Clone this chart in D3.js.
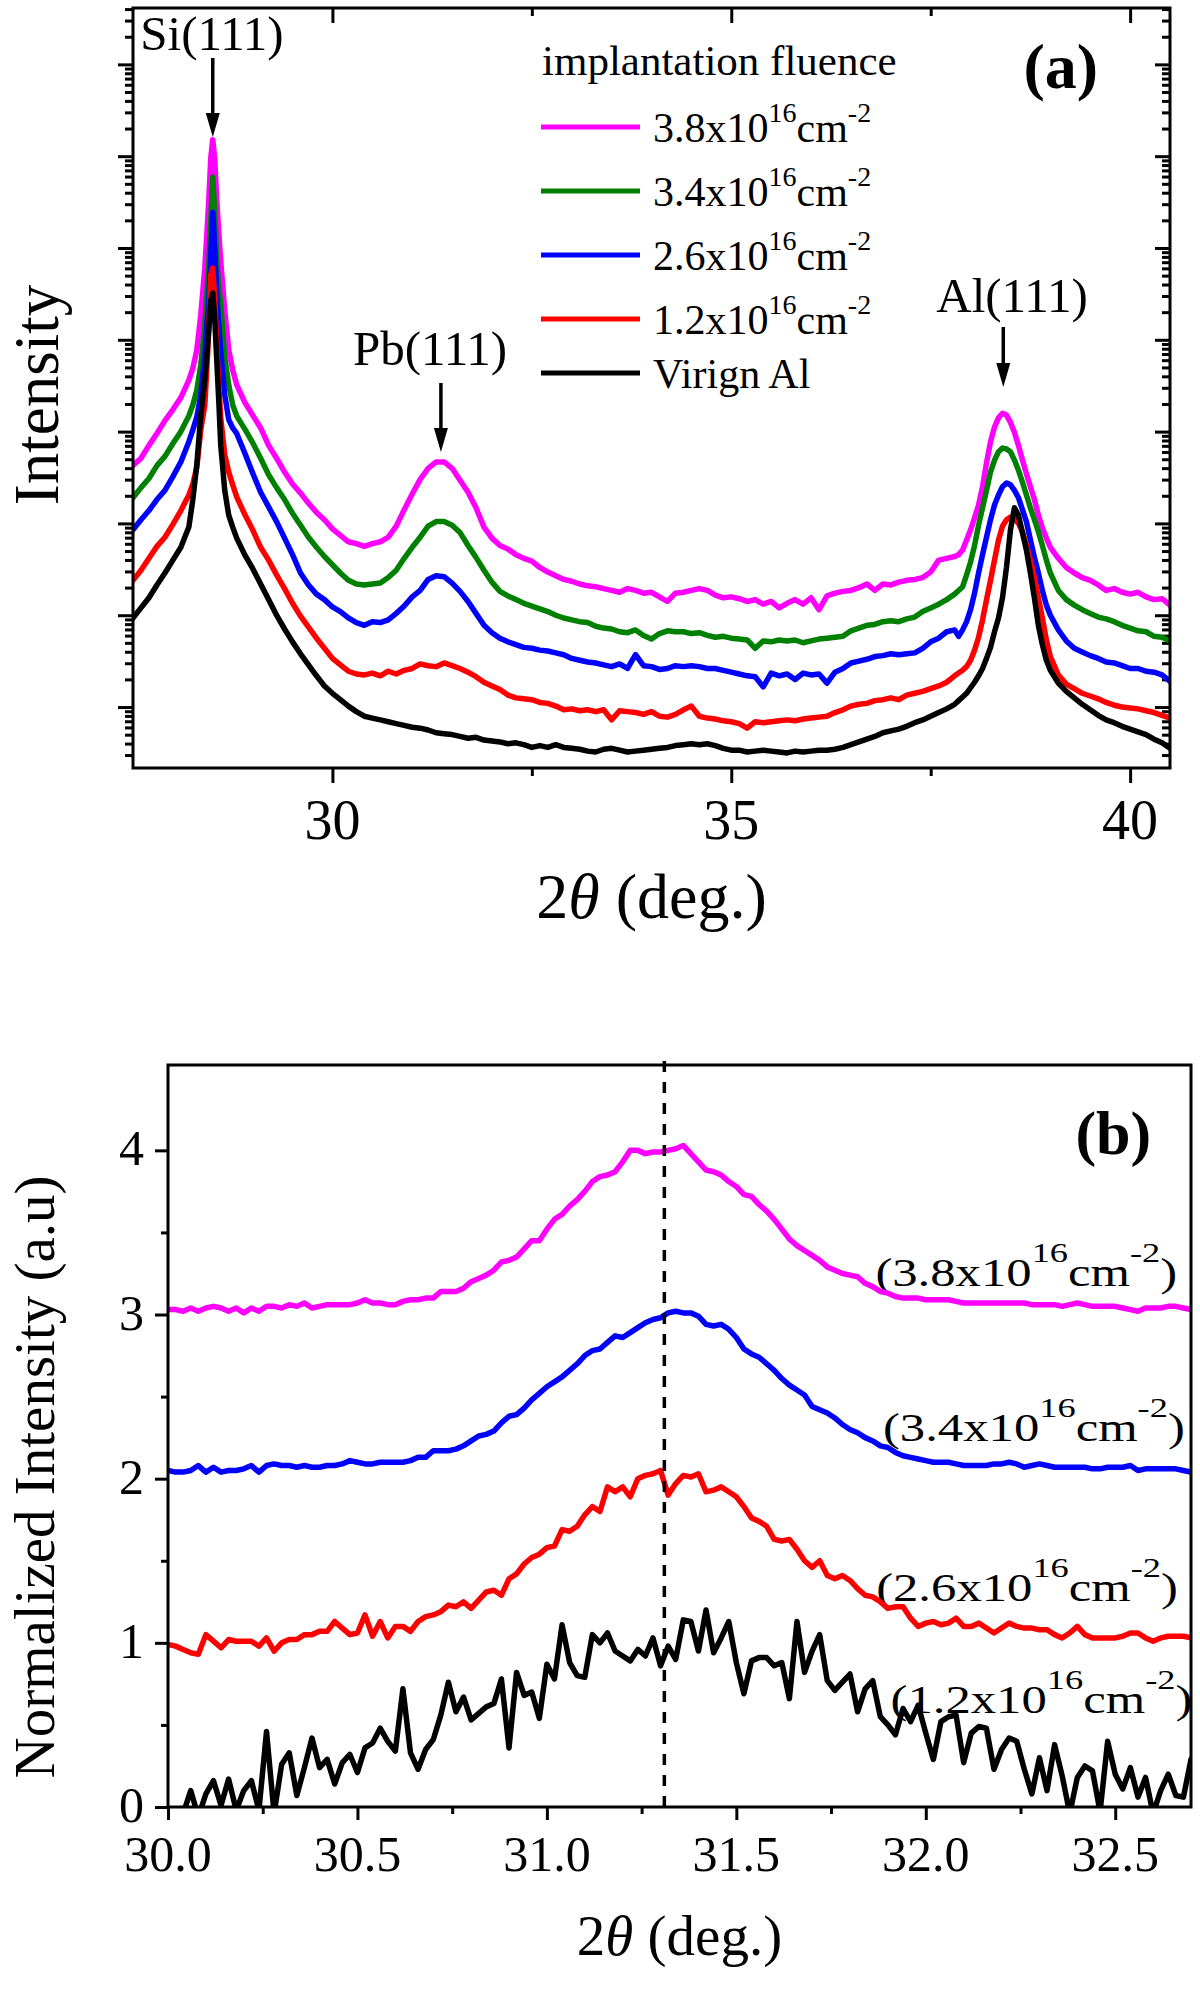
<!DOCTYPE html>
<html><head><meta charset="utf-8">
<script src="https://cdn.jsdelivr.net/npm/d3@7"></script>
<style>
body{margin:0;background:#fff}
text{font-family:"Liberation Serif","Times New Roman",serif;fill:#000}
</style></head>
<body>
<svg id="c" width="1200" height="1998"></svg>
<script>
// ================= DATA : panel (a) — XRD scans, log10(intensity) =================
const xDomainA = [27.5, 40.5];
const lgDomainA = [0.336, 8.614];
const twoThetaA = [27.5,27.6,27.7,27.8,27.9,28.0,28.1,28.2,28.25,28.3,28.35,28.4,28.425,28.45,28.475,28.5,28.525,28.55,28.575,28.6,28.65,28.7,28.75,28.8,
28.9,29.0,29.1,29.2,29.3,29.4,29.5,29.6,29.7,29.8,29.9,
30.0,30.1,30.2,30.3,30.4,30.5,30.6,30.7,30.8,30.9,
31.0,31.1,31.2,31.3,31.4,31.5,31.6,31.7,31.8,31.9,
32.0,32.1,32.2,32.3,32.4,32.5,32.6,32.7,32.8,32.9,
33.0,33.1,33.2,33.3,33.4,33.5,33.6,33.7,33.8,33.9,
34.0,34.1,34.2,34.3,34.4,34.5,34.6,34.7,34.8,34.9,
35.0,35.1,35.2,35.3,35.4,35.5,35.6,35.7,35.8,35.9,
36.0,36.1,36.2,36.3,36.4,36.5,36.6,36.7,36.8,36.9,
37.0,37.1,37.2,37.3,37.4,37.5,37.6,37.7,37.8,
37.85,37.9,37.95,38.0,38.05,38.1,38.15,38.2,38.25,38.3,38.35,38.4,38.45,38.5,38.55,38.6,38.65,38.7,38.75,38.8,38.85,38.9,38.95,39.0,
39.1,39.2,39.3,39.4,39.5,39.6,39.7,39.8,39.9,40.0,40.1,40.2,40.3,40.4,40.5];

const lgFluence38 = [3.63,3.71,3.85,3.98,4.12,4.24,4.37,4.56,4.69,4.89,5.27,5.78,6.14,6.52,6.98,7.18,6.96,6.52,6.17,5.85,5.32,4.89,4.67,4.51,
4.32,4.18,4.04,3.85,3.71,3.56,3.43,3.33,3.22,3.12,3.04,
2.94,2.87,2.80,2.78,2.75,2.78,2.80,2.85,2.97,3.15,
3.32,3.48,3.60,3.67,3.67,3.60,3.47,3.34,3.17,2.96,
2.84,2.76,2.72,2.66,2.62,2.59,2.52,2.47,2.43,2.39,
2.37,2.34,2.32,2.31,2.29,2.27,2.25,2.29,2.27,2.24,
2.25,2.20,2.15,2.24,2.25,2.27,2.29,2.27,2.22,2.19,
2.20,2.18,2.15,2.17,2.12,2.15,2.08,2.13,2.17,2.12,
2.19,2.06,2.21,2.24,2.26,2.27,2.30,2.34,2.27,2.34,
2.33,2.36,2.38,2.39,2.41,2.47,2.60,2.62,2.64,
2.66,2.71,2.82,2.93,3.06,3.20,3.40,3.66,3.89,4.05,4.15,4.20,4.18,4.10,3.99,3.85,3.69,3.54,3.40,3.26,3.09,2.95,2.84,2.74,
2.62,2.52,2.46,2.41,2.38,2.33,2.27,2.29,2.25,2.23,2.25,2.20,2.17,2.18,2.11];

const lgFluence34 = [3.28,3.39,3.49,3.63,3.73,3.87,4.00,4.17,4.29,4.45,4.73,5.16,5.49,5.81,6.31,6.77,6.39,5.85,5.56,5.38,4.81,4.51,4.29,4.17,
4.03,3.88,3.71,3.53,3.39,3.26,3.11,2.98,2.85,2.74,2.64,
2.55,2.46,2.38,2.34,2.33,2.34,2.35,2.41,2.49,2.62,
2.74,2.85,2.97,3.02,3.02,2.98,2.90,2.76,2.63,2.49,
2.36,2.26,2.21,2.17,2.13,2.10,2.07,2.04,2.00,1.97,
1.95,1.93,1.92,1.88,1.86,1.85,1.82,1.81,1.84,1.78,
1.74,1.80,1.83,1.82,1.82,1.80,1.81,1.78,1.76,1.77,
1.75,1.74,1.73,1.64,1.72,1.71,1.73,1.72,1.73,1.70,
1.72,1.74,1.75,1.76,1.77,1.83,1.86,1.89,1.90,1.93,
1.94,1.93,1.96,1.98,2.04,2.08,2.12,2.17,2.23,
2.27,2.31,2.44,2.58,2.76,2.98,3.17,3.36,3.56,3.69,3.78,3.82,3.81,3.78,3.69,3.58,3.45,3.31,3.17,3.04,2.91,2.76,2.60,2.46,
2.27,2.17,2.11,2.06,2.02,1.98,1.96,1.93,1.89,1.86,1.83,1.82,1.77,1.76,1.72];

const lgFluence26 = [2.93,3.04,3.14,3.26,3.36,3.51,3.67,3.89,4.02,4.16,4.40,4.83,5.16,5.43,5.92,6.39,5.98,5.49,5.16,4.87,4.40,4.13,4.04,3.98,
3.77,3.55,3.34,3.18,3.02,2.84,2.66,2.46,2.33,2.23,2.17,
2.09,2.04,1.97,1.92,1.89,1.93,1.92,1.95,2.02,2.10,
2.20,2.27,2.39,2.43,2.42,2.35,2.26,2.15,2.02,1.89,
1.81,1.75,1.71,1.68,1.65,1.64,1.62,1.61,1.59,1.57,
1.53,1.51,1.49,1.48,1.46,1.44,1.47,1.42,1.57,1.45,
1.44,1.41,1.42,1.45,1.44,1.45,1.44,1.42,1.42,1.40,
1.38,1.36,1.34,1.33,1.22,1.37,1.34,1.36,1.30,1.37,
1.35,1.36,1.26,1.38,1.42,1.48,1.50,1.52,1.55,1.56,
1.58,1.57,1.58,1.59,1.64,1.71,1.75,1.82,1.84,
1.77,1.84,1.93,2.06,2.24,2.46,2.66,2.85,3.04,3.20,3.31,3.40,3.44,3.42,3.36,3.28,3.15,3.02,2.82,2.63,2.46,2.27,2.11,2.00,
1.84,1.72,1.64,1.60,1.56,1.53,1.49,1.48,1.45,1.42,1.42,1.39,1.38,1.35,1.28];

const lgFluence12 = [2.38,2.49,2.62,2.75,2.85,2.99,3.14,3.31,3.43,3.61,4.02,4.29,4.67,5.11,5.71,5.78,5.43,4.94,4.51,4.15,3.75,3.56,3.42,3.29,
3.10,2.93,2.74,2.60,2.44,2.29,2.13,1.99,1.87,1.75,1.64,
1.53,1.46,1.39,1.36,1.35,1.37,1.34,1.39,1.36,1.40,
1.42,1.47,1.45,1.44,1.48,1.45,1.42,1.38,1.33,1.27,
1.23,1.19,1.13,1.10,1.09,1.08,1.05,1.04,1.01,0.97,
0.98,0.96,0.97,0.95,0.97,0.86,0.96,0.95,0.94,0.92,
0.95,0.90,0.89,0.92,0.97,1.01,0.90,0.88,0.87,0.85,
0.84,0.82,0.77,0.84,0.83,0.84,0.85,0.86,0.85,0.87,
0.88,0.89,0.90,0.94,0.97,1.01,1.03,1.04,1.07,1.08,
1.10,1.08,1.13,1.15,1.17,1.20,1.23,1.27,1.34,
1.37,1.40,1.44,1.51,1.62,1.76,1.95,2.17,2.38,2.60,2.82,2.97,3.04,3.07,3.05,3.00,2.91,2.76,2.60,2.41,2.19,1.97,1.73,1.55,
1.35,1.25,1.20,1.15,1.12,1.09,1.05,1.02,1.00,0.99,0.98,0.96,0.94,0.91,0.88];

const lgVirginAl = [1.97,2.08,2.19,2.33,2.46,2.60,2.74,2.96,3.26,3.64,4.18,4.56,4.83,5.11,5.43,5.51,5.22,4.78,4.34,3.85,3.36,3.09,2.96,2.84,
2.66,2.51,2.34,2.17,2.00,1.85,1.71,1.58,1.46,1.34,1.23,
1.15,1.08,1.01,0.95,0.90,0.88,0.86,0.84,0.82,0.80,
0.78,0.77,0.75,0.72,0.71,0.70,0.68,0.66,0.67,0.64,
0.63,0.62,0.60,0.61,0.59,0.56,0.58,0.56,0.59,0.56,
0.55,0.54,0.52,0.51,0.54,0.55,0.53,0.51,0.52,0.53,
0.54,0.55,0.56,0.58,0.59,0.60,0.59,0.60,0.58,0.55,
0.53,0.53,0.51,0.52,0.53,0.52,0.51,0.50,0.52,0.51,
0.52,0.53,0.53,0.54,0.56,0.59,0.62,0.65,0.68,0.72,
0.74,0.76,0.79,0.83,0.86,0.90,0.94,0.98,1.03,
1.07,1.11,1.15,1.21,1.27,1.34,1.42,1.53,1.65,1.82,1.97,2.19,2.52,2.93,3.17,3.09,2.90,2.71,2.46,2.19,1.89,1.68,1.51,1.40,
1.26,1.17,1.10,1.03,0.97,0.91,0.86,0.83,0.79,0.76,0.73,0.70,0.65,0.61,0.55];

const seriesNamesA = ["3.8", "3.4", "2.6", "1.2", "Virign Al"];
const seriesColorsA = ["#ff00ff", "#008000", "#0000ff", "#ff0000", "#000000"];
const xTicksA = [30, 35, 40];
const xMinorTicksA = [32.5, 37.5];
const peakLabels = ["Si(111)", "Pb(111)", "Al(111)"];
const peakPositions = [28.5, 31.36, 38.41];

// ================= DATA : panel (b) — normalized Pb(111) region =================
const xDomainB = [30, 32.7];
const yDomainB = [0, 4.52];
const twoThetaB = [30.00,30.02,30.04,30.06,30.08,30.10,30.12,30.14,30.16,30.18,
30.20,30.22,30.24,30.26,30.28,30.30,30.32,30.34,30.36,30.38,
30.40,30.42,30.44,30.46,30.48,30.50,30.52,30.54,30.56,30.58,
30.60,30.62,30.64,30.66,30.68,30.70,30.72,30.74,30.76,30.78,
30.80,30.82,30.84,30.86,30.88,30.90,30.92,30.94,30.96,30.98,
31.00,31.02,31.04,31.06,31.08,31.10,31.12,31.14,31.16,31.18,
31.20,31.22,31.24,31.26,31.28,31.30,31.32,31.34,31.36,31.38,
31.40,31.42,31.44,31.46,31.48,31.50,31.52,31.54,31.56,31.58,
31.60,31.62,31.64,31.66,31.68,31.70,31.72,31.74,31.76,31.78,
31.80,31.82,31.84,31.86,31.88,31.90,31.92,31.94,31.96,31.98,
32.00,32.02,32.04,32.06,32.08,32.10,32.12,32.14,32.16,32.18,
32.20,32.22,32.24,32.26,32.28,32.30,32.32,32.34,32.36,32.38,
32.40,32.42,32.44,32.46,32.48,32.50,32.52,32.54,32.56,32.58,
32.60,32.62,32.64,32.66,32.68,32.70];

const normB38 = [3.03,3.03,3.02,3.04,3.02,3.04,3.05,3.04,3.02,3.04,
3.01,3.04,3.02,3.05,3.05,3.04,3.06,3.05,3.07,3.04,
3.05,3.06,3.06,3.06,3.06,3.07,3.09,3.07,3.07,3.06,
3.06,3.08,3.09,3.09,3.10,3.10,3.14,3.14,3.14,3.16,
3.20,3.22,3.24,3.27,3.32,3.33,3.35,3.40,3.45,3.45,
3.52,3.58,3.61,3.66,3.70,3.75,3.81,3.84,3.85,3.87,
3.93,4.00,4.00,3.98,3.99,3.99,4.00,4.01,4.03,3.98,
3.93,3.88,3.87,3.85,3.81,3.78,3.73,3.72,3.67,3.63,
3.58,3.52,3.46,3.42,3.39,3.36,3.33,3.29,3.27,3.25,
3.24,3.23,3.19,3.17,3.14,3.13,3.11,3.10,3.10,3.10,
3.09,3.09,3.09,3.09,3.08,3.07,3.07,3.07,3.07,3.07,
3.07,3.07,3.07,3.07,3.06,3.06,3.06,3.06,3.05,3.06,
3.07,3.06,3.05,3.05,3.05,3.05,3.04,3.03,3.02,3.04,
3.04,3.04,3.05,3.05,3.04,3.03];

const normB34 = [2.05,2.04,2.04,2.05,2.08,2.04,2.07,2.04,2.05,2.05,
2.06,2.08,2.04,2.08,2.09,2.08,2.08,2.07,2.08,2.07,
2.07,2.08,2.08,2.09,2.11,2.10,2.09,2.09,2.10,2.10,
2.10,2.10,2.11,2.13,2.13,2.17,2.17,2.17,2.18,2.20,
2.23,2.26,2.27,2.29,2.34,2.38,2.39,2.43,2.48,2.52,
2.56,2.59,2.62,2.66,2.70,2.75,2.78,2.79,2.83,2.87,
2.86,2.89,2.92,2.95,2.97,2.98,3.01,3.02,3.01,3.01,
2.99,2.94,2.93,2.94,2.91,2.86,2.79,2.76,2.74,2.70,
2.66,2.61,2.57,2.54,2.51,2.44,2.42,2.40,2.37,2.33,
2.30,2.28,2.25,2.23,2.20,2.19,2.16,2.14,2.13,2.12,
2.11,2.10,2.10,2.10,2.09,2.08,2.08,2.08,2.08,2.09,
2.09,2.10,2.09,2.07,2.08,2.09,2.08,2.07,2.07,2.07,
2.07,2.07,2.06,2.06,2.07,2.07,2.07,2.08,2.05,2.06,
2.06,2.06,2.06,2.06,2.05,2.04];

const normB26 = [0.99,0.98,0.96,0.94,0.93,1.05,1.01,0.97,1.02,1.01,
1.01,1.01,0.98,1.03,0.95,1.00,1.02,1.02,1.05,1.05,
1.07,1.07,1.13,1.09,1.05,1.06,1.17,1.04,1.13,1.03,
1.10,1.10,1.07,1.13,1.16,1.17,1.19,1.23,1.22,1.25,
1.21,1.26,1.31,1.32,1.29,1.39,1.42,1.48,1.52,1.54,
1.58,1.59,1.69,1.68,1.71,1.78,1.83,1.80,1.95,1.92,
1.95,1.89,2.00,2.02,2.03,2.05,1.90,1.97,2.02,2.01,
2.03,1.92,1.93,1.95,1.92,1.89,1.83,1.76,1.74,1.71,
1.63,1.62,1.63,1.57,1.50,1.46,1.50,1.41,1.39,1.41,
1.38,1.33,1.29,1.28,1.25,1.21,1.22,1.22,1.15,1.10,
1.12,1.13,1.11,1.12,1.15,1.10,1.10,1.12,1.09,1.06,
1.09,1.12,1.10,1.09,1.09,1.08,1.08,1.05,1.03,1.06,
1.10,1.05,1.03,1.03,1.03,1.03,1.04,1.06,1.06,1.03,
1.01,1.03,1.04,1.04,1.04,1.03];

const normB12 = [-0.06,-0.09,-0.04,0.10,-0.06,0.08,0.16,0.01,0.17,-0.02,
0.10,0.16,-0.02,0.46,-0.04,0.26,0.33,0.07,0.24,0.42,
0.24,0.29,0.14,0.27,0.32,0.21,0.36,0.39,0.48,0.40,
0.34,0.72,0.33,0.23,0.35,0.41,0.56,0.76,0.58,0.67,
0.53,0.57,0.61,0.63,0.78,0.36,0.82,0.68,0.70,0.54,
0.87,0.78,1.11,0.88,0.80,0.79,1.05,1.00,1.06,0.95,
0.92,0.89,0.96,0.92,1.03,0.86,0.98,0.90,1.14,1.13,
0.95,1.20,0.94,1.03,1.13,0.88,0.69,0.89,0.91,0.91,
0.86,0.88,0.66,1.13,0.82,0.95,1.05,0.77,0.71,0.76,
0.81,0.58,0.72,0.77,0.55,0.50,0.44,0.60,0.52,0.62,
0.45,0.29,0.52,0.55,0.56,0.27,0.45,0.49,0.48,0.23,
0.35,0.42,0.40,0.23,0.08,0.30,0.10,0.38,0.19,-0.04,
0.18,0.25,0.22,-0.03,0.40,0.20,0.11,0.24,0.06,0.18,
-0.04,0.10,0.20,0.07,0.06,0.29];

const seriesNamesB = ["3.8", "3.4", "2.6", "1.2"];
const seriesColorsB = ["#ff00ff", "#0000ff", "#ff0000", "#000000"];
const xTicksB = [30.0, 30.5, 31.0, 31.5, 32.0, 32.5];
const xMinorTicksB = [30.25, 30.75, 31.25, 31.75, 32.25];
const yTicksB = [0, 1, 2, 3, 4];
const yMinorTicksB = [0.5, 1.5, 2.5, 3.5];
const peakLine = 31.31;

// ================= DRAWING =================
const svg = d3.select("#c");

function styleAxis(g) {
  g.select(".domain").remove();
  g.selectAll(".tick line").attr("stroke", "#000").attr("stroke-width", 3);
  g.selectAll(".tick text").remove();
}

// ---------- Panel (a) ----------
const A = {l: 133, r: 1170, t: 8, b: 768};
const xA = d3.scaleLinear().domain(xDomainA).range([A.l, A.r]);
const yA = d3.scaleLog().domain(lgDomainA.map(v => Math.pow(10, v))).range([A.b, A.t]);

const majorsA = [], minorsA = [];
for (let e = 0; e <= 9; e++) for (let m = 1; m <= 9; m++) {
  const v = m * Math.pow(10, e);
  if (v >= yA.domain()[0] && v <= yA.domain()[1]) (m === 1 ? majorsA : minorsA).push(v);
}
const gA = svg.append("g");
gA.append("g").attr("transform", `translate(${A.l},0)`).call(d3.axisLeft(yA).tickValues(majorsA).tickSize(15).tickFormat("")).call(styleAxis);
gA.append("g").attr("transform", `translate(${A.l},0)`).call(d3.axisLeft(yA).tickValues(minorsA).tickSize(8).tickFormat("")).call(styleAxis);
gA.append("g").attr("transform", `translate(${A.r},0)`).call(d3.axisRight(yA).tickValues(majorsA).tickSize(-15).tickFormat("")).call(styleAxis);
gA.append("g").attr("transform", `translate(${A.r},0)`).call(d3.axisRight(yA).tickValues(minorsA).tickSize(-8).tickFormat("")).call(styleAxis);
gA.append("g").attr("transform", `translate(0,${A.b})`).call(d3.axisBottom(xA).tickValues(xTicksA).tickSize(15).tickFormat("")).call(styleAxis);
gA.append("g").attr("transform", `translate(0,${A.b})`).call(d3.axisBottom(xA).tickValues(xMinorTicksA).tickSize(8).tickFormat("")).call(styleAxis);
gA.append("g").attr("transform", `translate(0,${A.t})`).call(d3.axisTop(xA).tickValues(xTicksA).tickSize(-15).tickFormat("")).call(styleAxis);
gA.append("g").attr("transform", `translate(0,${A.t})`).call(d3.axisTop(xA).tickValues(xMinorTicksA).tickSize(-8).tickFormat("")).call(styleAxis);

gA.selectAll("text.xt").data(xTicksA).join("text").attr("class", "xt")
  .attr("x", d => xA(d)).attr("y", 839).attr("text-anchor", "middle").attr("font-size", 56).text(d => d);

svg.append("clipPath").attr("id", "clipA").append("rect")
  .attr("x", A.l).attr("y", A.t).attr("width", A.r - A.l).attr("height", A.b - A.t);

const seriesA = [lgFluence38, lgFluence34, lgFluence26, lgFluence12, lgVirginAl];
const lineA = d3.line().x((d, i) => xA(twoThetaA[i])).y(d => yA(Math.pow(10, d)));
const curvesA = gA.append("g").attr("clip-path", "url(#clipA)");
seriesA.forEach((s, k) => {
  curvesA.append("path").datum(s).attr("d", lineA).attr("fill", "none")
    .attr("stroke", seriesColorsA[k]).attr("stroke-width", 5.5)
    .attr("stroke-linejoin", "round").attr("stroke-linecap", "round");
});

gA.append("rect").attr("x", A.l).attr("y", A.t).attr("width", A.r - A.l).attr("height", A.b - A.t)
  .attr("fill", "none").attr("stroke", "#000").attr("stroke-width", 3);

// peak labels + arrows
const peakLabelY = [50, 365, 312];
const arrowTop = [58, 383, 327];
const arrowBot = [137, 452, 387];
const peakLabelX = [212, 430, 1012];
peakLabels.forEach((t, k) => {
  gA.append("text").attr("x", peakLabelX[k]).attr("y", peakLabelY[k]).attr("text-anchor", "middle")
    .attr("font-size", 49).text(t);
  const x = xA(peakPositions[k]);
  gA.append("line").attr("x1", x).attr("x2", x).attr("y1", arrowTop[k]).attr("y2", arrowBot[k] - 20)
    .attr("stroke", "#000").attr("stroke-width", 3.5);
  gA.append("path").attr("d", `M${x - 7},${arrowBot[k] - 24}L${x + 7},${arrowBot[k] - 24}L${x},${arrowBot[k]}Z`).attr("fill", "#000");
});

// legend
gA.append("text").attr("x", 542).attr("y", 75).attr("font-size", 43).text("implantation fluence");
const legY = [127, 191, 255, 319, 373];
function fluenceText(parent, x, y, num, fs, sfs, raise, paren) {
  const t = parent.append("text").attr("x", x).attr("y", y).attr("font-size", fs);
  t.append("tspan").text((paren ? "(" : "") + num + "x10");
  t.append("tspan").attr("font-size", sfs).attr("dy", -raise).text("16");
  t.append("tspan").attr("dy", raise).text("cm");
  t.append("tspan").attr("font-size", sfs).attr("dy", -raise).text("-2");
  if (paren) t.append("tspan").attr("dy", raise).text(")");
  return t;
}
seriesNamesA.forEach((n, k) => {
  gA.append("line").attr("x1", 541).attr("x2", 640).attr("y1", legY[k]).attr("y2", legY[k])
    .attr("stroke", seriesColorsA[k]).attr("stroke-width", 5);
  if (k < 4) fluenceText(gA, 653, legY[k] + 15, n, 42, 28, 20, false);
  else gA.append("text").attr("x", 653).attr("y", legY[k] + 15).attr("font-size", 42).text(n);
});

gA.append("text").attr("x", 1098).attr("y", 88).attr("text-anchor", "end")
  .attr("font-size", 64).attr("font-weight", "bold").text("(a)");

// axis titles (a)
const tA = gA.append("text").attr("x", (A.l + A.r) / 2).attr("y", 918).attr("text-anchor", "middle").attr("font-size", 64);
tA.append("tspan").text("2");
tA.append("tspan").attr("font-style", "italic").text("θ");
tA.append("tspan").text(" (deg.)");
gA.append("text").attr("transform", "translate(58,395) rotate(-90)").attr("text-anchor", "middle")
  .attr("font-size", 63).text("Intensity");

// ---------- Panel (b) ----------
const B = {l: 168, r: 1191, t: 1065, b: 1807};
const xB = d3.scaleLinear().domain(xDomainB).range([B.l, B.r]);
const yB = d3.scaleLinear().domain(yDomainB).range([B.b, B.t]);
const gB = svg.append("g");

gB.append("g").attr("transform", `translate(${B.l},0)`).call(d3.axisLeft(yB).tickValues(yTicksB).tickSize(13).tickFormat("")).call(styleAxis);
gB.append("g").attr("transform", `translate(${B.l},0)`).call(d3.axisLeft(yB).tickValues(yMinorTicksB).tickSize(7).tickFormat("")).call(styleAxis);
gB.append("g").attr("transform", `translate(0,${B.b})`).call(d3.axisBottom(xB).tickValues(xTicksB).tickSize(13).tickFormat("")).call(styleAxis);
gB.append("g").attr("transform", `translate(0,${B.b})`).call(d3.axisBottom(xB).tickValues(xMinorTicksB).tickSize(7).tickFormat("")).call(styleAxis);

gB.selectAll("text.xt").data(xTicksB).join("text").attr("class", "xt")
  .attr("x", d => xB(d)).attr("y", 1871).attr("text-anchor", "middle").attr("font-size", 50).text(d => d3.format(".1f")(d));
gB.selectAll("text.yt").data(yTicksB).join("text").attr("class", "yt")
  .attr("x", 144).attr("y", d => yB(d) + 15).attr("text-anchor", "end").attr("font-size", 50).text(d => d);

// curve labels (drawn under curves)
const labPosB = [[31.867, 3.172], [31.887, 2.228], [31.869, 1.255], [31.907, 0.573]];
seriesNamesB.forEach((n, k) => {
  const g = gB.append("g").attr("transform", `translate(${xB(labPosB[k][0])},${yB(labPosB[k][1])}) scale(1.3,1)`);
  fluenceText(g, 0, 0, n, 39, 28, 24, true);
});

svg.append("clipPath").attr("id", "clipB").append("rect")
  .attr("x", B.l).attr("y", B.t).attr("width", B.r - B.l).attr("height", B.b - B.t);
const seriesB = [normB38, normB34, normB26, normB12];
const lineB = d3.line().x((d, i) => xB(twoThetaB[i])).y(d => yB(d));
const curvesB = gB.append("g").attr("clip-path", "url(#clipB)");
seriesB.forEach((s, k) => {
  curvesB.append("path").datum(s).attr("d", lineB).attr("fill", "none")
    .attr("stroke", seriesColorsB[k]).attr("stroke-width", 5.5)
    .attr("stroke-linejoin", "round").attr("stroke-linecap", "round");
});

gB.append("line").attr("x1", xB(peakLine)).attr("x2", xB(peakLine)).attr("y1", B.t - 4).attr("y2", B.b + 5)
  .attr("stroke", "#000").attr("stroke-width", 3.5).attr("stroke-dasharray", "11,10");

gB.append("rect").attr("x", B.l).attr("y", B.t).attr("width", B.r - B.l).attr("height", B.b - B.t)
  .attr("fill", "none").attr("stroke", "#000").attr("stroke-width", 3);

gB.append("text").attr("x", xB(32.595)).attr("y", yB(3.98)).attr("text-anchor", "end")
  .attr("font-size", 62).attr("font-weight", "bold").text("(b)");

const tB = gB.append("text").attr("x", (B.l + B.r) / 2).attr("y", 1955).attr("text-anchor", "middle").attr("font-size", 57);
tB.append("tspan").text("2");
tB.append("tspan").attr("font-style", "italic").text("θ");
tB.append("tspan").text(" (deg.)");
gB.append("text").attr("transform", "translate(54,1477) rotate(-90)").attr("text-anchor", "middle")
  .attr("font-size", 57).text("Normalized Intensity (a.u)");
</script>
</body></html>
